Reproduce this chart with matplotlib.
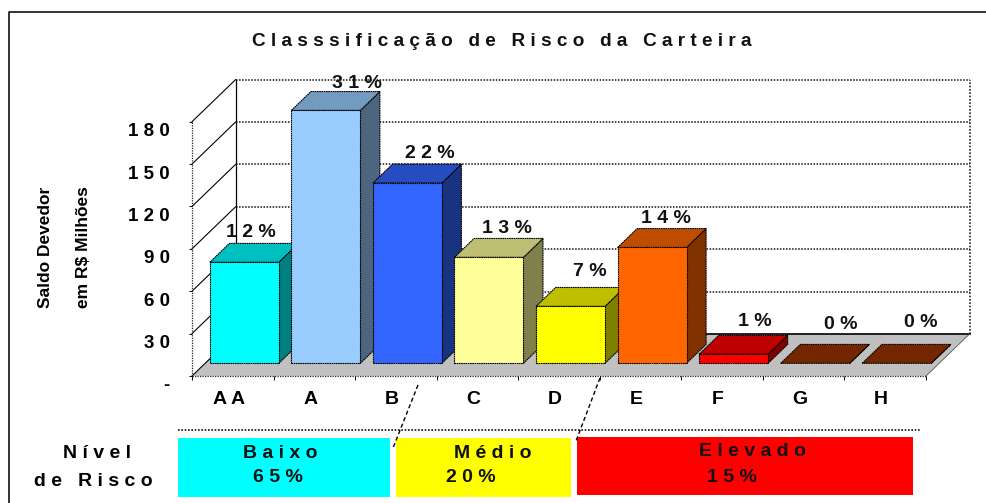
#!/usr/bin/env python3
"""Classificacao de risco da carteira: faux-3D bars with risk level boxes."""

import matplotlib

matplotlib.use("Agg")
import matplotlib.pyplot as plt
from matplotlib.patches import Polygon, Rectangle
from matplotlib.transforms import ScaledTranslation

plt.rcParams.update({"font.family": ["Liberation Sans", "DejaVu Sans"], "font.weight": "bold"})

W, H = 986, 503

categories = ["A A", "A", "B", "C", "D", "E", "F", "G", "H"]
saldo = [71.5, 179, 127.6, 75, 40.3, 82, 6.4, 0, 0]
percent = ["1 2 %", "3 1 %", "2 2 %", "1 3 %", "7 %", "1 4 %", "1 %", "0 %", "0 %"]
y_ticks = [0, 30, 60, 90, 120, 150, 180]
y_tick_labels = ["-", "3 0", "6 0", "9 0", "1 2 0", "1 5 0", "1 8 0"]

risk_names = ["B a i x o", "M é d i o", "E l e v a d o"]
risk_shares = ["6 5 %", "2 0 %", "1 5 %"]

front_colors = ["#00FFFF", "#99CCFF", "#3366FF", "#FFFF99", "#FFFF00", "#FF6600", "#FF0000", "#993300", "#993300"]
top_colors = ["#00BFBF", "#739ABF", "#264DBF", "#BFBF73", "#BFBF00", "#BF4D00", "#BF0000", "#732600", "#732600"]
side_colors = ["#008080", "#4D6680", "#1A3380", "#80804D", "#808000", "#803300", "#800000", "#4D1A00", "#4D1A00"]

# pixel offset of each percent label from the rear top of its bar
label_shift = [(7, 11), (31, 8), (22, 11), (18, 10), (19, 16), (14, 10), (21, 14), (26, 20), (24, 22)]

# plot box in pixels (front plane)
left, right, bottom, top = 192, 926, 376, 121.7
cat_w = (right - left) / len(categories)
unit = (bottom - top) / 180
depth_x, depth_y = 43.5 / cat_w, 42 / unit  # full depth in data units

BAR_WIDTH = 0.845
BAR_FRONT = 0.302
BAR_DEPTH = 0.45
BAR_SHIFT = -0.02
DOT = (0, (1, 1))


def proj(x, y, d=0.0):
    return (x + d * depth_x, y + d * depth_y)


fig = plt.figure(figsize=(W / 100, H / 100), dpi=100)
ax = fig.add_axes([left / W, 1 - bottom / H, (right - left) / W, (bottom - top) / H])
ax.set_xlim(-0.5, len(categories) - 0.5)
ax.set_ylim(0, 180)
ax.patch.set_visible(False)
for s in ax.spines.values():
    s.set_visible(False)

x_end = len(categories) - 0.5
ax.add_patch(Polygon([proj(-0.5, 0), proj(-0.5, 0, 1), proj(x_end, 0, 1), proj(x_end, 0)],
                     facecolor="#C0C0C0", edgecolor="none", zorder=1, clip_on=False))

# walls and grid
for v in y_ticks[1:]:
    ax.plot(*zip(proj(-0.5, v, 1), proj(x_end, v, 1)), color="#111111", lw=1.1, ls=DOT, zorder=1, clip_on=False)
for v in y_ticks:
    ax.plot(*zip(proj(-0.5, v), proj(-0.5, v, 1)), color="black", lw=0.8, zorder=1.1, clip_on=False)
ax.plot(*zip(proj(-0.5, 0, 1), proj(x_end, 0, 1)), color="black", lw=1.2, zorder=1.1, clip_on=False)
ax.plot(*zip(proj(-0.5, 0, 1), proj(-0.5, 180, 1)), color="black", lw=0.9, zorder=1.1, clip_on=False)
ax.plot(*zip(proj(x_end, 0, 1), proj(x_end, 180, 1)), color="#222222", lw=1.2, ls=DOT, zorder=1.1, clip_on=False)
ax.plot(*zip(proj(-0.5, 0), proj(-0.5, 180)), color="#222222", lw=0.9, ls=DOT, zorder=1.1, clip_on=False)
ax.plot(*zip(proj(x_end, 0), proj(x_end, 0, 1)), color="#555555", lw=0.6, zorder=1.1, clip_on=False)
ax.plot([-0.5, x_end], [0, 0], color="#222222", lw=0.9, ls=DOT, zorder=1.1, clip_on=False)

# bars, left to right so each front hides the side of the previous one
for i, v in enumerate(saldo):
    x0 = i + BAR_SHIFT - BAR_WIDTH / 2
    x1 = i + BAR_SHIFT + BAR_WIDTH / 2
    d0, d1 = BAR_FRONT, BAR_FRONT + BAR_DEPTH
    z = 2 + i * 0.1
    style = dict(edgecolor="black", lw=0.8, ls=(0, (1.5, 0.5)), clip_on=False, zorder=z)
    ax.add_patch(Polygon([proj(x1, 0, d0), proj(x1, 0, d1), proj(x1, v, d1), proj(x1, v, d0)],
                         facecolor=side_colors[i], **style))
    ax.add_patch(Polygon([proj(x0, v, d0), proj(x0, v, d1), proj(x1, v, d1), proj(x1, v, d0)],
                         facecolor=top_colors[i], **style))
    if v > 0:
        ax.add_patch(Polygon([proj(x0, 0, d0), proj(x1, 0, d0), proj(x1, v, d0), proj(x0, v, d0)],
                             facecolor=front_colors[i], **style))
    lx, ly = proj(i + BAR_SHIFT, v, d1)
    dx, dy = label_shift[i]
    ax.annotate(percent[i], (lx, ly), xytext=(dx - 0.45 * 43.5, dy), textcoords="offset pixels",
                ha="center", va="center", fontsize=14, color="#111111", zorder=5, annotation_clip=False)

# axes ticks
ax.set_yticks(y_ticks, y_tick_labels, fontsize=13.5)
ax.tick_params(axis="y", length=2, width=0.7, pad=14)
ax.set_xticks(range(len(categories)), categories, fontsize=14)
ax.tick_params(axis="x", length=0, pad=11)
ax.set_xticks([i - 0.5 for i in range(len(categories) + 1)], minor=True)
ax.tick_params(axis="x", which="minor", length=3, width=0.7)
down = ScaledTranslation(0, -8 / 100, fig.dpi_scale_trans)
for t in ax.get_yticklabels():
    t.set_transform(t.get_transform() + down)
left_shift = ScaledTranslation(-4 / 100, 0, fig.dpi_scale_trans)
for t in ax.get_xticklabels():
    t.set_transform(t.get_transform() + left_shift)

# overlay in pixels for frame, title and risk boxes
ov = fig.add_axes([0, 0, 1, 1], zorder=-1)
ov.set_xlim(0, W)
ov.set_ylim(H, 0)
ov.axis("off")
ov.plot([8.5, 8.5, W], [H, 11.5, 11.5], color="#111111", lw=1.2)

ov2 = fig.add_axes([0, 0, 1, 1], zorder=3)
ov2.set_xlim(0, W)
ov2.set_ylim(H, 0)
ov2.axis("off")

ov2.text(502, 41, "C l a s s s i f i c a ç ã o   d e   R i s c o   d a   C a r t e i r a",
         ha="center", va="center", fontsize=13.7, color="#111111")
ov2.text(46, 247, "Saldo Devedor", rotation=90, ha="center", va="center", fontsize=12.5)
ov2.text(84, 247, "em R$ Milhões", rotation=90, ha="center", va="center", fontsize=12.5)
ov2.text(97, 454, "N í v e l", ha="center", va="center", fontsize=14)
ov2.text(93, 481, "d e   R i s c o", ha="center", va="center", fontsize=14)

ov2.plot([178, 920], [430, 430], color="#111111", lw=1.2, ls=DOT)
ov2.plot([418, 393], [385, 448], color="black", lw=1.0, ls=(0, (3, 2)))
ov2.plot([600, 576], [378, 441], color="black", lw=1.0, ls=(0, (3, 2)))

boxes = [(178, 438, 212, 59, "#00FFFF"), (396, 438, 175, 59, "#FFFF00"), (577, 437, 336, 58, "#FF0000")]
name_pos = [(280, 454), (493, 453), (752, 452)]
share_pos = [(278, 478), (471, 478), (732, 477)]
for (x, y, w, h, c), nm, sh, np_, sp in zip(boxes, risk_names, risk_shares, name_pos, share_pos):
    ov2.add_patch(Rectangle((x, y), w, h, facecolor=c, edgecolor="none"))
    ov2.text(*np_, nm, ha="center", va="center", fontsize=14, color="#111111")
    ov2.text(*sp, sh, ha="center", va="center", fontsize=14, color="#111111")

fig.savefig("out.png", dpi=100)
